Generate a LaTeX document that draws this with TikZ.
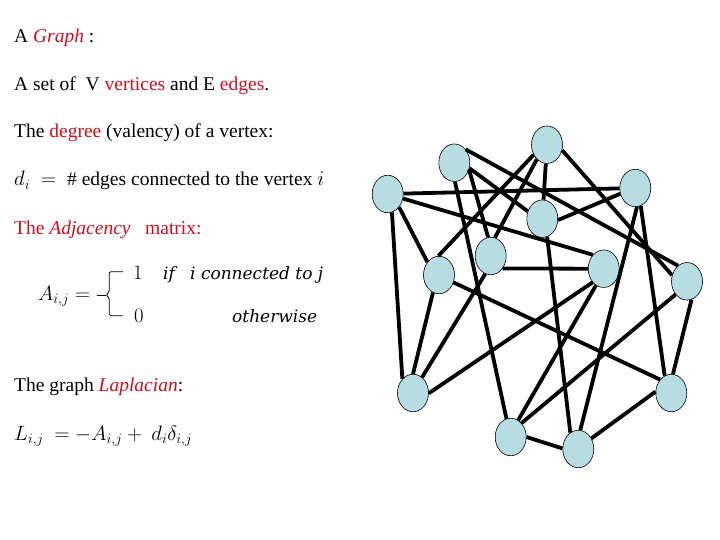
\documentclass[tikz,border=0pt]{standalone}
\usepackage{fontspec}
\setmainfont{Liberation Serif}
\newfontfamily\cambr{DejaVu Serif}
\usetikzlibrary{shapes.geometric}
\definecolor{tred}{RGB}{200,16,32}
\definecolor{nodeblue}{RGB}{183,221,226}
\begin{document}
\begin{tikzpicture}[x=1pt,y=-1pt,
  txt/.style={anchor=base west, inner sep=0pt, font=\fontsize{19.5}{23}\selectfont},
  mtxt/.style={anchor=base west, inner sep=0pt, font=\fontsize{17}{21}\cambr\itshape},
  vtx/.style={ellipse, draw=black, line width=0.6pt, fill=nodeblue, minimum width=31pt, minimum height=37.5pt, inner sep=0pt},
  link/.style={line width=3.8pt, black},
  bracepath/.style={line width=0.8pt, rounded corners=1.5pt}]
\useasboundingbox (0,0) rectangle (720,540);
% text
\node[txt] (t1) at (14,42.5) {A \textcolor{tred}{\textit{Graph}} :};
\node[txt] (t2) at (14,90.5) {A set of\ \ V \textcolor{tred}{vertices} and E \textcolor{tred}{edges}.};
\node[txt] (t3) at (14,137.5) {The \textcolor{tred}{degree} (valency) of a vertex:};
\node[txt] (t4a) at (14,186) {$d_i$};
\node[txt] (t4b) at (41,186) {$=$};
\node[txt] (t4c) at (67,186) {\# edges connected to the vertex $i$};
\node[txt,text=tred] (t5) at (14,234.5) {The \textit{Adjacency}\ \ \ matrix:};
\node[txt] (a1) at (38,300) {$A_{i,j}=$};
\node[txt] (one) at (133,279) {$1$};
\node[mtxt] (if) at (163,279) {if};
\node[mtxt] (cond) at (190,279) {i connected to j};
\node[txt] (zero) at (134,322.7) {$0$};
\node[mtxt] (oth) at (232,322.7) {otherwise};
\node[txt] (t6) at (14,391.5) {The graph \textcolor{tred}{\textit{Laplacian}}:};
\node[txt] (lap) at (14,440) {$L_{i,j}\ = - A_{i,j} +\ d_i\delta_{i,j}$};
% brace
\draw[bracepath] (123,271.7) -- (109.3,271.7) -- (109.3,292) -- (106,295) -- (109.3,298) -- (109.3,315.7) -- (123,315.7);
\draw[line width=0.8pt] (96.7,295) -- (106,295);
% vertices
\node[vtx] (n1) at (547,144.7) {};
\node[vtx] (n2) at (454.3,162.7) {};
\node[vtx] (n3) at (387.7,194) {};
\node[vtx] (n4) at (635.3,188) {};
\node[vtx] (n5) at (542.3,218.7) {};
\node[vtx] (n6) at (490.7,256) {};
\node[vtx] (n7) at (439,275) {};
\node[vtx] (n8) at (603.7,268.7) {};
\node[vtx] (n9) at (687,281.3) {};
\node[vtx] (n10) at (413,393) {};
\node[vtx] (n11) at (671.3,393) {};
\node[vtx] (n12) at (510.7,437) {};
\node[vtx] (n13) at (578.3,449) {};
% edges
\draw[link] (n3) -- (n4);
\draw[link] (n3) -- (n8.128);
\draw[link] (n3.283) -- (n10.127);
\draw[link] (n3.311) -- (n7.132);
\draw[link] (n2.50) -- (n9.120);
\draw[link] (n2.272) -- (n12.103);
\draw[link] (n2.335) -- (n6.98);
\draw[link] (n2.340) -- (n5.153);
\draw[link] (n1) -- (n5);
\draw[link] (n1.217) -- (n7.92);
\draw[link] (n1.235) -- (n6.77);
\draw[link] (n1.340) -- (n9.158);
\draw[link] (n4.201) -- (n5.355);
\draw[link] (n4.287) -- (n11.111);
\draw[link] (n4.275) -- (n13.84);
\draw[link] (n6.314) -- (n8.180);
\draw[link] (n6.253) -- (n10.60);
\draw[link] (n8.231) -- (n10.359);
\draw[link] (n7.251) -- (n10.90);
\draw[link] (n7.333) -- (n11.130);
\draw[link] (n5.285) -- (n13.116);
\draw[link] (n8.245) -- (n12.66);
\draw[link] (n9.229) -- (n12.52);
\draw[link] (n9.284) -- (n11.85);
\draw[link] (n12.0) -- (n13.178);
\draw[link] (n13.39) -- (n11.175);
\end{tikzpicture}
\end{document}
